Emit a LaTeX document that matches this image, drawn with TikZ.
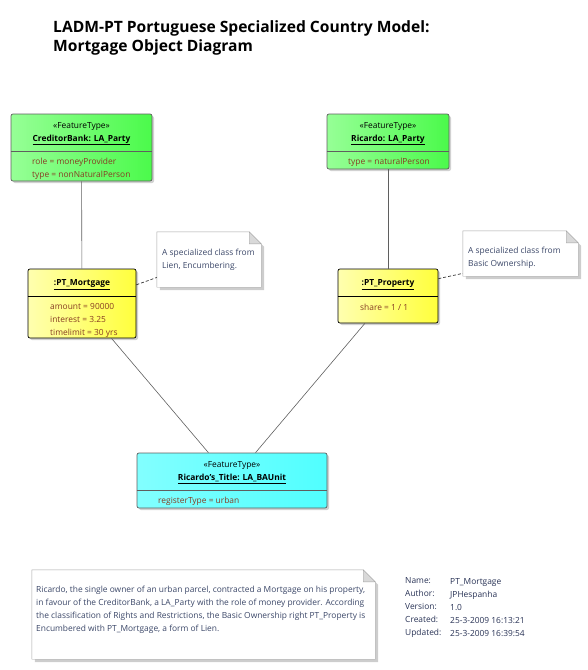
\documentclass[tikz,border=0pt]{standalone}
\usepackage{fontspec}
\setmainfont{Open Sans}
\usetikzlibrary{positioning,shadows,calc}
\definecolor{attrtext}{RGB}{135,60,35}
\definecolor{notetext}{RGB}{60,72,105}
\definecolor{metatext}{RGB}{40,50,85}
\definecolor{edgegray}{RGB}{95,95,95}
\definecolor{notegray}{RGB}{165,165,165}
\definecolor{shadegray}{RGB}{205,205,205}
% folded note outline round an empty node
\newcommand{\notepaper}[1]{%
\fill[shadegray] ($(#1.north west)+(3,3)$) -- ($(#1.north east)+(-9,3)$) -- ($(#1.north east)+(3,15)$) -- ($(#1.south east)+(3,3)$) -- ($(#1.south west)+(3,3)$) -- cycle;
\filldraw[fill=white,draw=notegray] (#1.north west) -- ($(#1.north east)+(-12,0)$) -- ($(#1.north east)+(0,12)$) -- (#1.south east) -- (#1.south west) -- cycle;
\filldraw[fill=black!15,draw=notegray] ($(#1.north east)+(-12,0)$) -- ($(#1.north east)+(-12,12)$) -- ($(#1.north east)+(0,12)$) -- cycle;}
\begin{document}
\begin{tikzpicture}[x=1pt,y=-1pt,font=\fontsize{8.4}{13}\selectfont,
obj/.style={rectangle,rounded corners=2pt,draw=#1,line width=0.7pt,inner sep=0pt,drop shadow={shadow xshift=2pt,shadow yshift=-2pt,fill=black!30,opacity=0.6}},
party/.style={obj=edgegray,left color={rgb,255:red,150;green,255;blue,150},right color={rgb,255:red,75;green,250;blue,75}},
right node/.style={obj=black,left color={rgb,255:red,255;green,255;blue,175},right color={rgb,255:red,255;green,255;blue,60}},
unit/.style={obj=edgegray,left color={rgb,255:red,130;green,255;blue,255},right color={rgb,255:red,80;green,255;blue,255}},
note/.style={rectangle,inner sep=0pt},
stereo/.style={inner sep=0pt},
oname/.style={inner sep=0pt,font=\fontsize{8.4}{13}\selectfont\bfseries},
attr/.style={inner sep=0pt,anchor=west,align=left,text=attrtext},
ntext/.style={inner sep=0pt,anchor=west,align=left,text=notetext},
link/.style={draw=edgegray,line width=0.6pt},
notelink/.style={draw=black!80,line width=0.7pt,dash pattern=on 3pt off 2pt}]
\useasboundingbox (0,0) rectangle (588,670);
% title
\node[anchor=west,inner sep=0pt,font=\fontsize{15.6}{19}\selectfont\bfseries] (title1) at (53,28) {LADM-PT Portuguese Specialized Country Model:};
\node[anchor=west,inner sep=0pt,font=\fontsize{15.6}{19}\selectfont\bfseries] (title2) at (53,47) {Mortgage Object Diagram};
% objects
\node[party,minimum width=141,minimum height=67] (bank) at (81.5,147.5) {};
\node[party,minimum width=122,minimum height=55] (ricardo) at (388,141.5) {};
\node[right node,minimum width=108,minimum height=69] (mortgage) at (82,303.5) {};
\node[right node,minimum width=100,minimum height=54] (property) at (388,296) {};
\node[unit,minimum width=190,minimum height=55] (title) at (232,480.5) {};
\draw[edgegray,line width=0.7pt] ($(bank.north west)+(0,38)$) -- ($(bank.north east)+(0,38)$);
\draw[edgegray,line width=0.7pt] ($(ricardo.north west)+(0,38)$) -- ($(ricardo.north east)+(0,38)$);
\draw[black,line width=0.7pt] ($(mortgage.north west)+(0,28)$) -- ($(mortgage.north east)+(0,28)$);
\draw[black,line width=0.7pt] ($(property.north west)+(0,28)$) -- ($(property.north east)+(0,28)$);
\draw[edgegray,line width=0.7pt] ($(title.north west)+(0,38)$) -- ($(title.north east)+(0,38)$);
% object texts
\node[stereo] (bankst) at (81.5,127) {«FeatureType»};
\node[oname] (bankname) at (81.5,140) {\underline{CreditorBank: LA\_Party}};
\node[attr] (bankattr) at (32,168.5) {role = moneyProvider\\type = nonNaturalPerson};
\node[stereo] (ricst) at (388,127) {«FeatureType»};
\node[oname] (ricname) at (388,140) {\underline{Ricardo: LA\_Party}};
\node[attr] (ricattr) at (348,162) {type = naturalPerson};
\node[oname] (mortname) at (82,285) {\underline{:PT\_Mortgage}};
\node[attr] (mortattr) at (50,320) {amount = 90000\\interest = 3.25\\timelimit = 30 yrs};
\node[oname] (propname) at (388,285) {\underline{:PT\_Property}};
\node[attr] (propattr) at (360,307) {share = 1 / 1};
\node[stereo] (titlest) at (232,466) {«FeatureType»};
\node[oname] (titlename) at (232,479) {\underline{Ricardo's\_Title: LA\_BAUnit}};
\node[attr] (titleattr) at (158,501) {registerType = urban};
% notes
\node[note,minimum width=104,minimum height=55] (note1) at (209,259.5) {};
\node[note,minimum width=115,minimum height=45] (note2) at (520.5,253.5) {};
\node[note,minimum width=343,minimum height=89] (note3) at (203.5,614.5) {};
\notepaper{note1}
\notepaper{note2}
\notepaper{note3}
\node[ntext] (note1text) at (162,259.5) {A specialized class from\\Lien, Encumbering.};
\node[ntext] (note2text) at (468,257.5) {A specialized class from\\Basic Ownership.};
\node[ntext] (note3text) at (36,610) {Ricardo, the single owner of an urban parcel, contracted a Mortgage on his property,\\in favour of the CreditorBank, a LA\_Party with the role of money provider. According\\the classification of Rights and Restrictions, the Basic Ownership right PT\_Property is\\Encumbered with PT\_Mortgage, a form of Lien.};
% diagram details
\node[inner sep=0pt,anchor=west,align=left,text=metatext] (metakeys) at (405,608) {Name:\\Author:\\Version:\\Created:\\Updated:};
\node[inner sep=0pt,anchor=west,align=left,text=metatext] (metavals) at (450,608) {PT\_Mortgage\\JPHespanha\\1.0\\25-3-2009 16:13:21\\25-3-2009 16:39:54};
% links
\begin{scope}
\draw[link] (bank) -- (mortgage);
\draw[link] (ricardo) -- (property);
\draw[link] (mortgage) -- (title);
\draw[link] (property) -- (title);
\draw[notelink] (mortgage.19) -- (note1.199);
\draw[notelink] (property.19) -- (note2.199);
\end{scope}
\end{tikzpicture}
\end{document}
